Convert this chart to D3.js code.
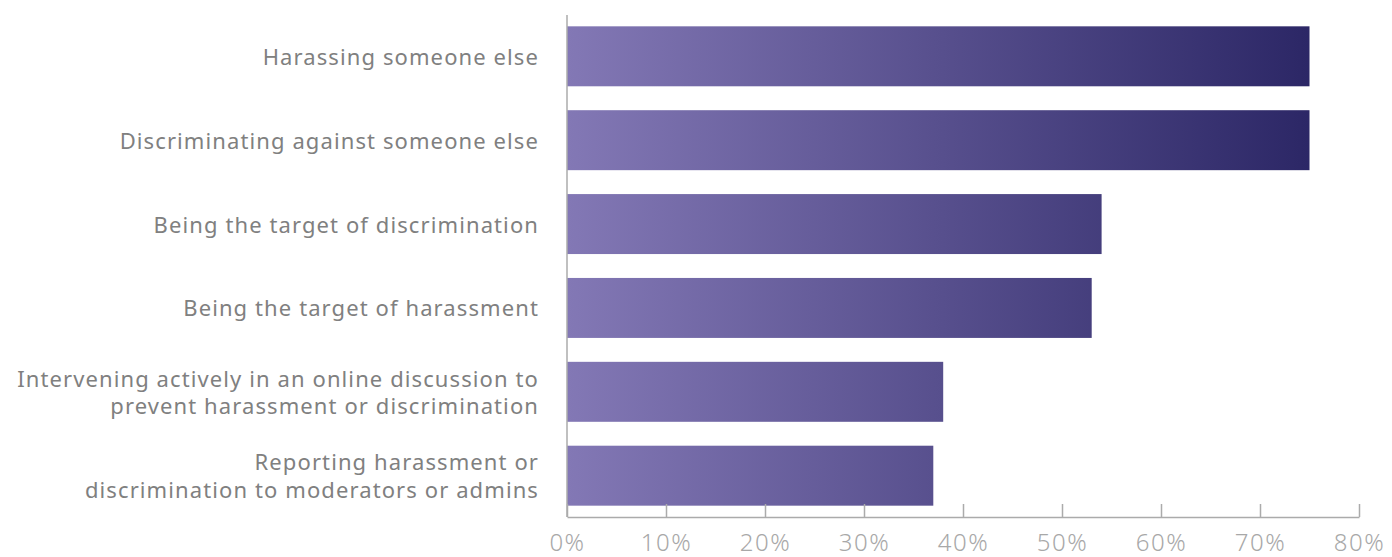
<!DOCTYPE html>
<html>
<head>
<meta charset="utf-8">
<script src="https://cdn.jsdelivr.net/npm/d3@7"></script>
<style>
  html, body { margin: 0; padding: 0; background: #fff; }
  svg { display: block; }
</style>
</head>
<body>
<svg id="chart" width="1392" height="557"></svg>
<script>
// Survey activities and the share of respondents for each
const categories = [
  ["Harassing someone else"],
  ["Discriminating against someone else"],
  ["Being the target of discrimination"],
  ["Being the target of harassment"],
  ["Intervening actively in an online discussion to", "prevent harassment or discrimination"],
  ["Reporting harassment or", "discrimination to moderators or admins"]
];
const values = [75, 75, 54, 53, 38, 37];
const tickValues = [0, 10, 20, 30, 40, 50, 60, 70, 80];

const svg = d3.select("#chart");
const font = "'Noto Sans', sans-serif";

const x = d3.scaleLinear().domain([0, 80]).range([567, 1359]);
const y = d3.scaleBand()
  .domain(d3.range(values.length))
  .range([15, 517])
  .paddingInner(0.285)
  .paddingOuter(0.135);

// Horizontal gradient shared by all bars, light on the left, deep indigo on the right
const grad = svg.append("defs").append("linearGradient")
  .attr("id", "barGrad")
  .attr("gradientUnits", "userSpaceOnUse")
  .attr("x1", x(0)).attr("x2", x(75))
  .attr("y1", 0).attr("y2", 0);
grad.append("stop").attr("offset", "0%").attr("stop-color", "#8378b5");
grad.append("stop").attr("offset", "100%").attr("stop-color", "#2c2766");

svg.append("g")
  .selectAll("rect")
  .data(values)
  .join("rect")
  .attr("x", x(0))
  .attr("y", (d, i) => y(i))
  .attr("width", d => x(d) - x(0))
  .attr("height", y.bandwidth())
  .attr("fill", "url(#barGrad)");

// Category labels, right-aligned against the axis
const labels = svg.append("g")
  .selectAll("text")
  .data(categories)
  .join("text")
  .attr("text-anchor", "end")
  .attr("font-family", font)
  .attr("font-size", 22)
  .attr("letter-spacing", 1.1)
  .attr("fill", "#808080");
labels.each(function(lines, i) {
  const cy = y(i) + y.bandwidth() / 2;
  const lh = 27.5;
  const startY = cy - (lines.length - 1) * lh / 2 + 8.5;
  d3.select(this).selectAll("tspan")
    .data(lines)
    .join("tspan")
    .attr("x", 539)
    .attr("y", (d, j) => startY + j * lh)
    .text(d => d);
});

// Vertical baseline of the category axis
svg.append("line")
  .attr("x1", x(0)).attr("x2", x(0))
  .attr("y1", 15).attr("y2", 517)
  .attr("stroke", "#ababab")
  .attr("stroke-width", 1.5);

// Percentage axis along the bottom, with ticks pointing up
const xAxis = d3.axisBottom(x)
  .tickValues(tickValues)
  .tickFormat(d => d + "%")
  .tickSizeInner(-13)
  .tickSizeOuter(0)
  .tickPadding(17);

const gx = svg.append("g")
  .attr("transform", "translate(0,517)")
  .call(xAxis);
gx.select(".domain").attr("stroke", "#ababab").attr("stroke-width", 1.5);
gx.selectAll(".tick line").attr("stroke", "#ababab").attr("stroke-width", 1.5);
gx.selectAll(".tick text")
  .attr("font-family", font)
  .attr("font-size", 24)
  .attr("font-weight", 300)
  .attr("letter-spacing", 1.5)
  .attr("fill", "#a8a8a8");
</script>
</body>
</html>
